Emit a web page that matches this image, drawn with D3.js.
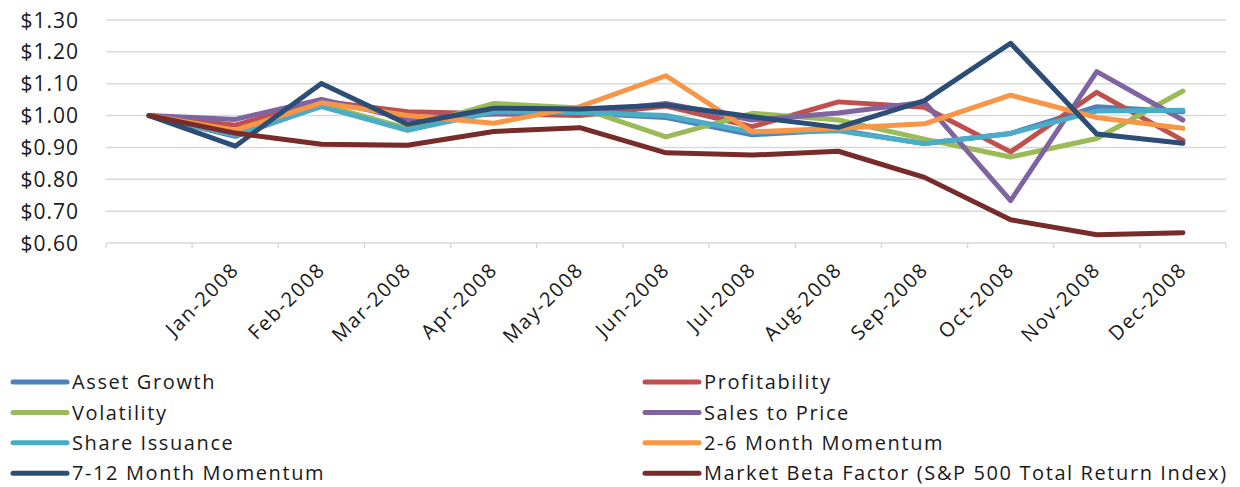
<!DOCTYPE html>
<html>
<head>
<meta charset="utf-8">
<script src="https://cdn.jsdelivr.net/npm/d3@7"></script>
<style>
  body { margin: 0; background: #fff; }
  svg { display: block; font-family: "Open Sans", sans-serif; }
  .grid line { stroke: #d9d9d9; stroke-width: 1.5; }
  .y-label { font-size: 21px; letter-spacing: 1px; fill: #1a1a1a; }
  .x-label { font-size: 20px; letter-spacing: 1.6px; fill: #1a1a1a; }
  .legend-text { font-size: 20px; letter-spacing: 1.6px; fill: #1a1a1a; }
</style>
</head>
<body>
<svg id="chart"></svg>
<script>
// categories (first point is the starting value, no label)
const months = ["", "Jan-2008", "Feb-2008", "Mar-2008", "Apr-2008", "May-2008", "Jun-2008",
  "Jul-2008", "Aug-2008", "Sep-2008", "Oct-2008", "Nov-2008", "Dec-2008"];

const yTicks = [0.6, 0.7, 0.8, 0.9, 1.0, 1.1, 1.2, 1.3];

// growth of $1
const assetGrowth   = [1.00, 0.935, 1.030, 0.958, 1.010, 1.008, 0.994, 0.940, 0.955, 0.912, 0.944, 1.028, 1.012];
const profitability = [1.00, 0.970, 1.045, 1.012, 1.006, 1.000, 1.030, 0.965, 1.043, 1.026, 0.886, 1.073, 0.922];
const volatility    = [1.00, 0.940, 1.035, 0.960, 1.038, 1.024, 0.933, 1.007, 0.986, 0.926, 0.870, 0.928, 1.077];
const salesToPrice  = [1.00, 0.988, 1.051, 0.990, 1.005, 1.010, 1.038, 0.986, 1.008, 1.042, 0.733, 1.138, 0.986];
const shareIssuance = [1.00, 0.940, 1.028, 0.954, 1.012, 1.010, 1.000, 0.948, 0.952, 0.912, 0.944, 1.014, 1.017];
const mom2to6       = [1.00, 0.954, 1.040, 1.000, 0.976, 1.028, 1.125, 0.949, 0.960, 0.974, 1.064, 0.994, 0.960];
const mom7to12      = [1.00, 0.904, 1.101, 0.973, 1.023, 1.021, 1.033, 0.996, 0.963, 1.047, 1.227, 0.942, 0.913];
const marketBeta    = [1.00, 0.945, 0.910, 0.907, 0.950, 0.962, 0.883, 0.876, 0.888, 0.806, 0.673, 0.626, 0.632];

const seriesNames = ["Asset Growth", "Profitability", "Volatility", "Sales to Price",
  "Share Issuance", "2-6 Month Momentum", "7-12 Month Momentum",
  "Market Beta Factor (S&P 500 Total Return Index)"];
const seriesValues = [assetGrowth, profitability, volatility, salesToPrice,
  shareIssuance, mom2to6, mom7to12, marketBeta];
const colors = ["#4f81bd", "#c0504d", "#9bbb59", "#8064a2",
  "#4bacc6", "#f79646", "#2c4d75", "#772c2a"];

class LineChart {
  constructor(_config, _data) {
    this.config = {
      parentElement: _config.parentElement,
      containerWidth: _config.containerWidth || 1240,
      containerHeight: _config.containerHeight || 487,
      margin: _config.margin || {top: 20, right: 14, bottom: 244, left: 106}
    };
    this.data = _data;
    this.initVis();
  }

  initVis() {
    let vis = this;

    vis.width = vis.config.containerWidth - vis.config.margin.left - vis.config.margin.right;
    vis.height = vis.config.containerHeight - vis.config.margin.top - vis.config.margin.bottom;

    vis.xScale = d3.scaleBand()
      .domain(months)
      .range([0, vis.width])
      .padding(0);

    vis.yScale = d3.scaleLinear()
      .domain([0.6, 1.3])
      .range([vis.height, 0]);

    vis.svg = d3.select(vis.config.parentElement)
      .attr('width', vis.config.containerWidth)
      .attr('height', vis.config.containerHeight);

    vis.chart = vis.svg.append('g')
      .attr('transform', `translate(${vis.config.margin.left},${vis.config.margin.top})`);

    vis.renderVis();
  }

  renderVis() {
    let vis = this;

    // horizontal gridlines
    vis.chart.append('g')
      .attr('class', 'grid')
      .selectAll('line')
      .data(yTicks)
      .join('line')
      .attr('x1', 0)
      .attr('x2', vis.width)
      .attr('y1', d => vis.yScale(d))
      .attr('y2', d => vis.yScale(d));

    // y labels
    vis.svg.append('g')
      .selectAll('text')
      .data(yTicks)
      .join('text')
      .attr('class', 'y-label')
      .attr('x', 79)
      .attr('y', d => vis.yScale(d) + vis.config.margin.top)
      .attr('dy', '0.36em')
      .attr('text-anchor', 'end')
      .text(d => d3.format('$.2f')(d));

    // tick marks between categories
    const bounds = months.map(m => vis.xScale(m)).concat([vis.width]);
    vis.chart.append('g')
      .attr('class', 'grid')
      .selectAll('line')
      .data(bounds)
      .join('line')
      .attr('x1', d => d)
      .attr('x2', d => d)
      .attr('y1', vis.height)
      .attr('y2', vis.height + 5);

    // rotated month labels
    const bw = vis.xScale.bandwidth();
    vis.chart.append('g')
      .selectAll('text')
      .data(months.filter(m => m !== ''))
      .join('text')
      .attr('class', 'x-label')
      .attr('text-anchor', 'end')
      .attr('transform', d => `translate(${vis.xScale(d) + bw / 2 + 5},${vis.height + 28}) rotate(-45)`)
      .text(d => d);

    // lines
    const line = d3.line()
      .x((d, i) => vis.xScale(months[i]) + bw / 2)
      .y(d => vis.yScale(d));

    vis.chart.append('g')
      .selectAll('path')
      .data(vis.data)
      .join('path')
      .attr('fill', 'none')
      .attr('stroke', (d, i) => colors[i])
      .attr('stroke-width', 5)
      .attr('stroke-linejoin', 'round')
      .attr('stroke-linecap', 'round')
      .attr('d', d => line(d));

    // legend, two columns
    const legend = vis.svg.append('g')
      .selectAll('g')
      .data(seriesNames)
      .join('g')
      .attr('transform', (d, i) => `translate(${i % 2 === 0 ? 13 : 645},${382 + Math.floor(i / 2) * 30.4})`);

    legend.append('line')
      .attr('x1', 0)
      .attr('x2', 54)
      .attr('stroke', (d, i) => colors[i])
      .attr('stroke-width', 5)
      .attr('stroke-linecap', 'round');

    legend.append('text')
      .attr('class', 'legend-text')
      .attr('x', 59)
      .attr('dy', '0.36em')
      .text(d => d);
  }
}

new LineChart({parentElement: '#chart'}, seriesValues);
</script>
</body>
</html>
